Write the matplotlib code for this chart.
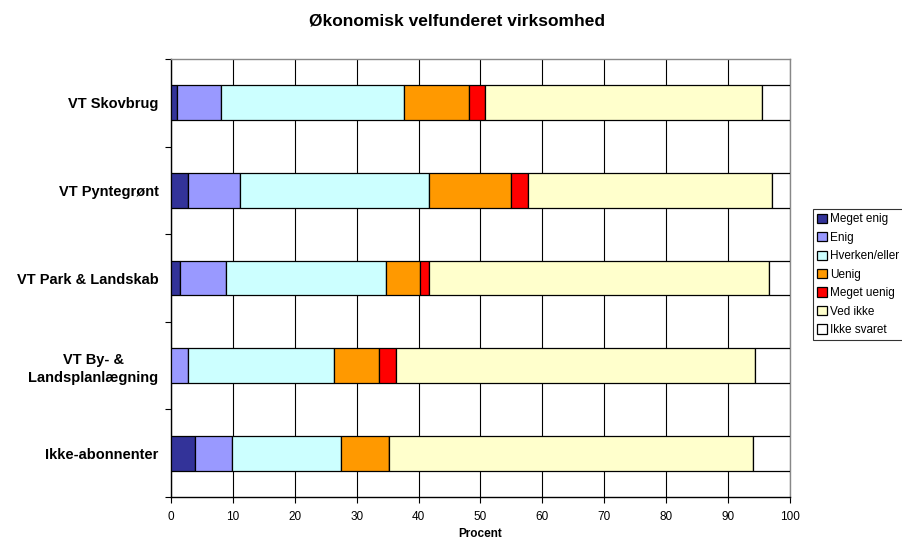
import matplotlib
matplotlib.use("Agg")
import matplotlib.pyplot as plt
import numpy as np

plt.rcParams['font.family'] = ['Liberation Sans', 'DejaVu Sans']

categories = ["VT Skovbrug", "VT Pyntegrønt", "VT Park & Landskab",
              "VT By- &\nLandsplanlægning", "Ikke-abonnenter"]
series_names = ["Meget enig", "Enig", "Hverken/eller", "Uenig",
                "Meget uenig", "Ved ikke", "Ikke svaret"]
meget_enig = [1.0, 2.8, 1.5, 0.0, 3.9]
enig = [7.0, 8.3, 7.4, 2.7, 5.9]
hverken = [29.6, 30.5, 25.8, 23.6, 17.6]
uenig = [10.5, 13.3, 5.6, 7.3, 7.8]
meget_uenig = [2.6, 2.8, 1.3, 2.7, 0.0]
ved_ikke = [44.7, 39.4, 55.0, 58.1, 58.9]
ikke_svaret = [4.6, 2.9, 3.4, 5.6, 5.9]
colors = ["#333399", "#9999FF", "#CCFFFF", "#FF9900", "#FF0000", "#FFFFCC", "#FFFFFF"]

series = [meget_enig, enig, hverken, uenig, meget_uenig, ved_ikke, ikke_svaret]

fig = plt.figure(figsize=(9.03, 5.42), dpi=100)
ax = fig.add_axes([171/903, 1-497/542, (790-171)/903, (497-59)/542])

n = len(categories)
ypos = np.arange(n)[::-1]
left = np.zeros(n)
for name, vals, c in zip(series_names, series, colors):
    vals = np.array(vals)
    ax.barh(ypos, vals, left=left, height=0.395, color=c, edgecolor='black',
            linewidth=0.9, label=name, zorder=3)
    left += vals

ax.set_xlim(0, 100)
ax.set_ylim(-0.5, n - 0.5)
ax.set_xticks(np.arange(0, 101, 10))
ax.tick_params(axis='x', labelsize=8.5, direction='out', length=4, width=0.8, pad=6)
ax.set_yticks(ypos)
ax.set_yticklabels(categories, fontsize=10.5, fontweight='bold', ha='right',
                   multialignment='center', linespacing=1.35)
ax.tick_params(axis='y', length=0, pad=9)
ax.set_yticks(np.arange(-0.5, n, 1.0), minor=True)
ax.tick_params(axis='y', which='minor', length=4, width=0.8, direction='out')
ax.grid(axis='x', color='black', linewidth=0.8, zorder=0)
ax.set_axisbelow(True)
for s in ['top', 'right']:
    ax.spines[s].set_color('#888888')
    ax.spines[s].set_linewidth(1.0)
for s in ['left', 'bottom']:
    ax.spines[s].set_color('black')
    ax.spines[s].set_linewidth(1.0)

ax.set_xlabel("Procent", fontsize=8.5, fontweight='bold', labelpad=4)
fig.suptitle("Økonomisk velfunderet virksomhed", fontsize=12.5, fontweight='bold',
             x=(171+790)/2/903 - 0.026, y=1-13/542, va='top')

leg = fig.legend(loc='upper left', bbox_to_anchor=(813/903, 1-209/542),
                 fontsize=8.5, frameon=True, fancybox=False, edgecolor='black',
                 handlelength=0.8, handleheight=0.8, handletextpad=0.3,
                 labelspacing=0.55, borderpad=0.35, borderaxespad=0)
leg.get_frame().set_linewidth(0.8)

fig.savefig("out.png", dpi=100)
